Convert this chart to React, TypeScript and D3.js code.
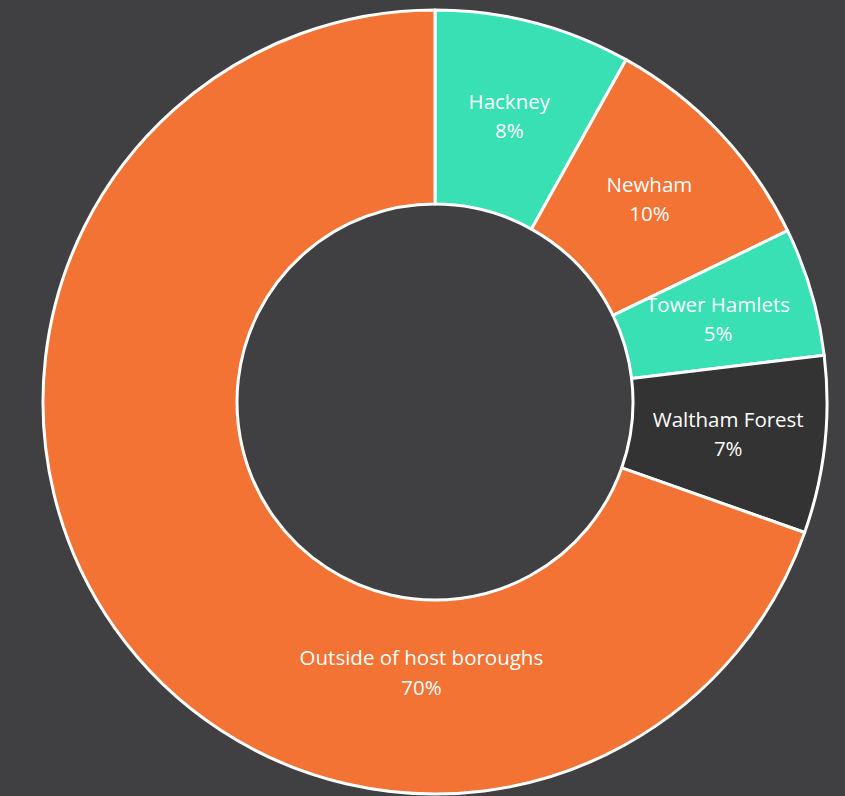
import React from "react";
import * as d3 from "d3";

const categories = ["Hackney", "Newham", "Tower Hamlets", "Waltham Forest", "Outside of host boroughs"];
const values = [8.1, 9.7, 5.3, 7.3, 69.6];
const colors = ["#38E0B4", "#F37335", "#38E0B4", "#333333", "#F37335"];
// label angle (fraction of full turn) and radius overrides; null = centroid
const labelAngleOverride: (number | null)[] = [null, null, null, null, 0.508];
const labelRadiusOverride: (number | null)[] = [null, null, null, null, 271];

const W = 845;
const H = 796;
const cx = 435;
const cy = 402;
const outerR = 392;
const innerR = 198;

export default function App() {
  const pie = d3.pie<number>().sort(null).value((d) => d)(values);
  const arc = d3.arc<d3.PieArcDatum<number>>().innerRadius(innerR).outerRadius(outerR);
  const total = d3.sum(values);
  const fmt = (v: number) => Math.round((v / total) * 100) + "%";
  return (
    <svg
      width={W}
      height={H}
      style={{ position: "fixed", left: 0, top: 0, display: "block" }}
      fontFamily="'Open Sans', sans-serif"
    >
      <rect width={W} height={H} fill="#404043" />
      <g transform={`translate(${cx},${cy})`}>
        {pie.map((p, i) => (
          <path key={i} d={arc(p) || ""} fill={colors[i]} stroke="#FFFFFF" strokeWidth={3} strokeLinejoin="round" />
        ))}
        {pie.map((p, i) => {
          let x: number, y: number;
          const ao = labelAngleOverride[i];
          if (ao !== null) {
            const a = ao * 2 * Math.PI;
            const r = labelRadiusOverride[i] ?? (innerR + outerR) / 2;
            x = r * Math.sin(a);
            y = -r * Math.cos(a);
          } else {
            [x, y] = arc.centroid(p);
          }
          return (
            <text key={"t" + i} x={x} y={y} textAnchor="middle" fill="#FFFFFF" fontSize={20.5}>
              <tspan x={x} dy="-0.35em">{categories[i]}</tspan>
              <tspan x={x} dy="1.42em">{fmt(values[i])}</tspan>
            </text>
          );
        })}
      </g>
    </svg>
  );
}
